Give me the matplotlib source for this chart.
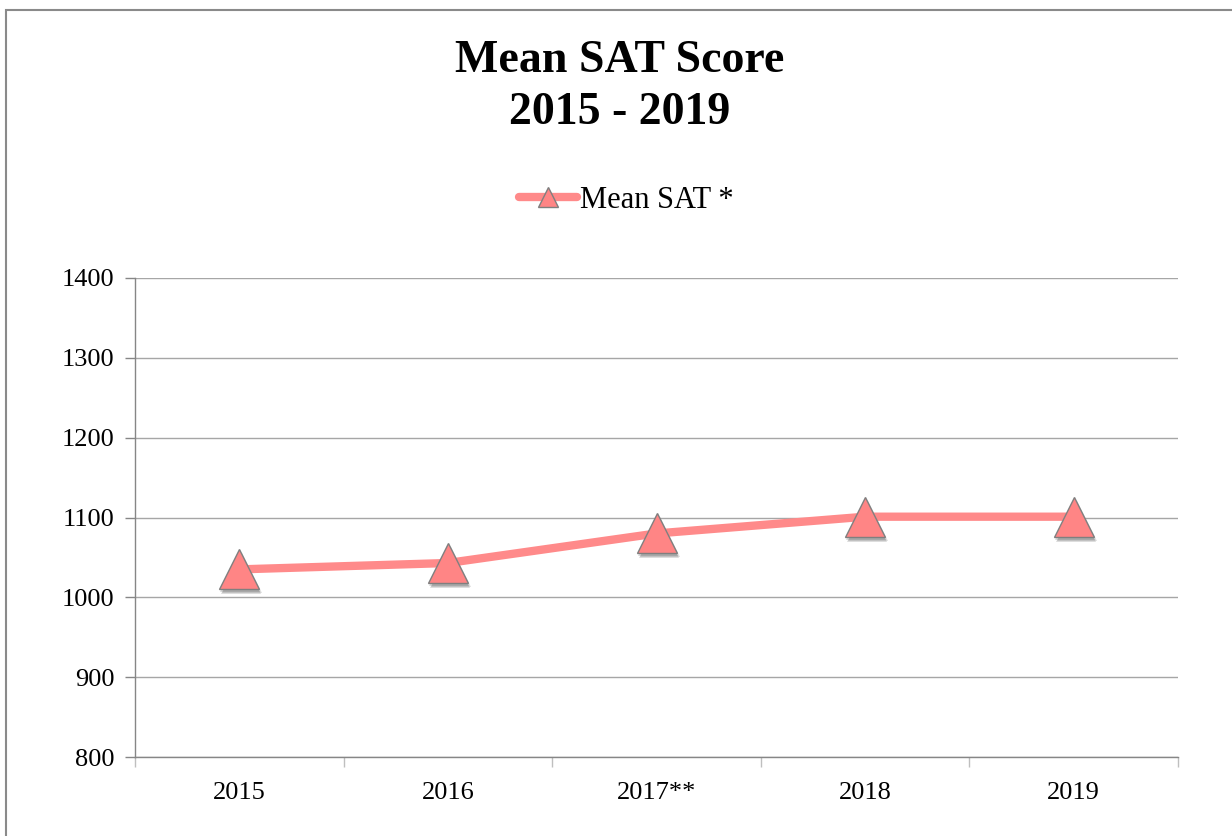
import matplotlib
matplotlib.use("Agg")
import matplotlib.pyplot as plt
from matplotlib.transforms import offset_copy
from matplotlib.patches import Rectangle

years = ["2015", "2016", "2017**", "2018", "2019"]
mean_sat = [1035, 1043, 1080, 1101, 1101]
series_label = "Mean SAT *"
title_text = "Mean SAT Score\n2015 - 2019"
y_ticks = [800, 900, 1000, 1100, 1200, 1300, 1400]

plt.rcParams['font.family'] = ['Liberation Serif', 'DejaVu Serif']

fig = plt.figure(figsize=(12.32, 8.36), dpi=100)
ax = fig.add_axes([135/1232, 1-757/836, (1178-135)/1232, (757-278)/836])

# figure border (top and left visible)
fig.patches.append(Rectangle((6/1232, -0.1), 1.2, 1 - 10/836 + 0.1, transform=fig.transFigure,
                             fill=False, edgecolor='#8a8a8a', linewidth=1.5))

x = list(range(len(years)))
line_color = '#FF8A8A'
ms = 29
# marker shadows
for dx, dy, a in [(2, -5, 0.18), (3, -4, 0.18), (1, -3, 0.2)]:
    shadow_tr = offset_copy(ax.transData, fig=fig, x=dx, y=dy, units='dots')
    ax.plot(x, mean_sat, linestyle='none', marker='^', markersize=ms, color='#444444',
            alpha=a, markeredgewidth=0, transform=shadow_tr, zorder=3, clip_on=False)
ax.plot(x, mean_sat, color=line_color, linewidth=6, marker='^', markersize=ms,
        markerfacecolor='#FF8585', markeredgecolor='#7f7f7f', markeredgewidth=1.0,
        label=series_label, zorder=4, clip_on=False, solid_capstyle='round')

ax.set_xlim(-0.5, len(years) - 0.5)
ax.set_ylim(800, 1400)
ax.set_yticks(y_ticks)
ax.set_yticklabels([str(v) for v in y_ticks])
ax.set_xticks(x)
ax.set_xticklabels(years)
ax.set_xticks([i - 0.5 for i in range(len(years) + 1)], minor=True)

ax.grid(axis='y', color='#a6a6a6', linewidth=1.0)
ax.set_axisbelow(True)
for s in ['top', 'right']:
    ax.spines[s].set_visible(False)
for s in ['left', 'bottom']:
    ax.spines[s].set_color('#868686')
    ax.spines[s].set_linewidth(1.0)

ax.tick_params(axis='y', which='major', direction='out', length=7, width=1,
               color='#868686', labelsize=19, pad=8)
ax.tick_params(axis='x', which='major', length=0, labelsize=19, pad=18)
ax.tick_params(axis='x', which='minor', direction='out', length=7, width=1, color='#bfbfbf')

fig.text(620/1232, 1 - 87/836, title_text, ha='center', va='center', fontsize=33,
         fontweight='bold', linespacing=1.3)

leg = fig.legend(loc='center', bbox_to_anchor=(626/1232, 1 - 200/836), frameon=False,
                 fontsize=22, markerscale=0.5, handlelength=1.9, handletextpad=0.1)

fig.savefig("out.png", dpi=100)
